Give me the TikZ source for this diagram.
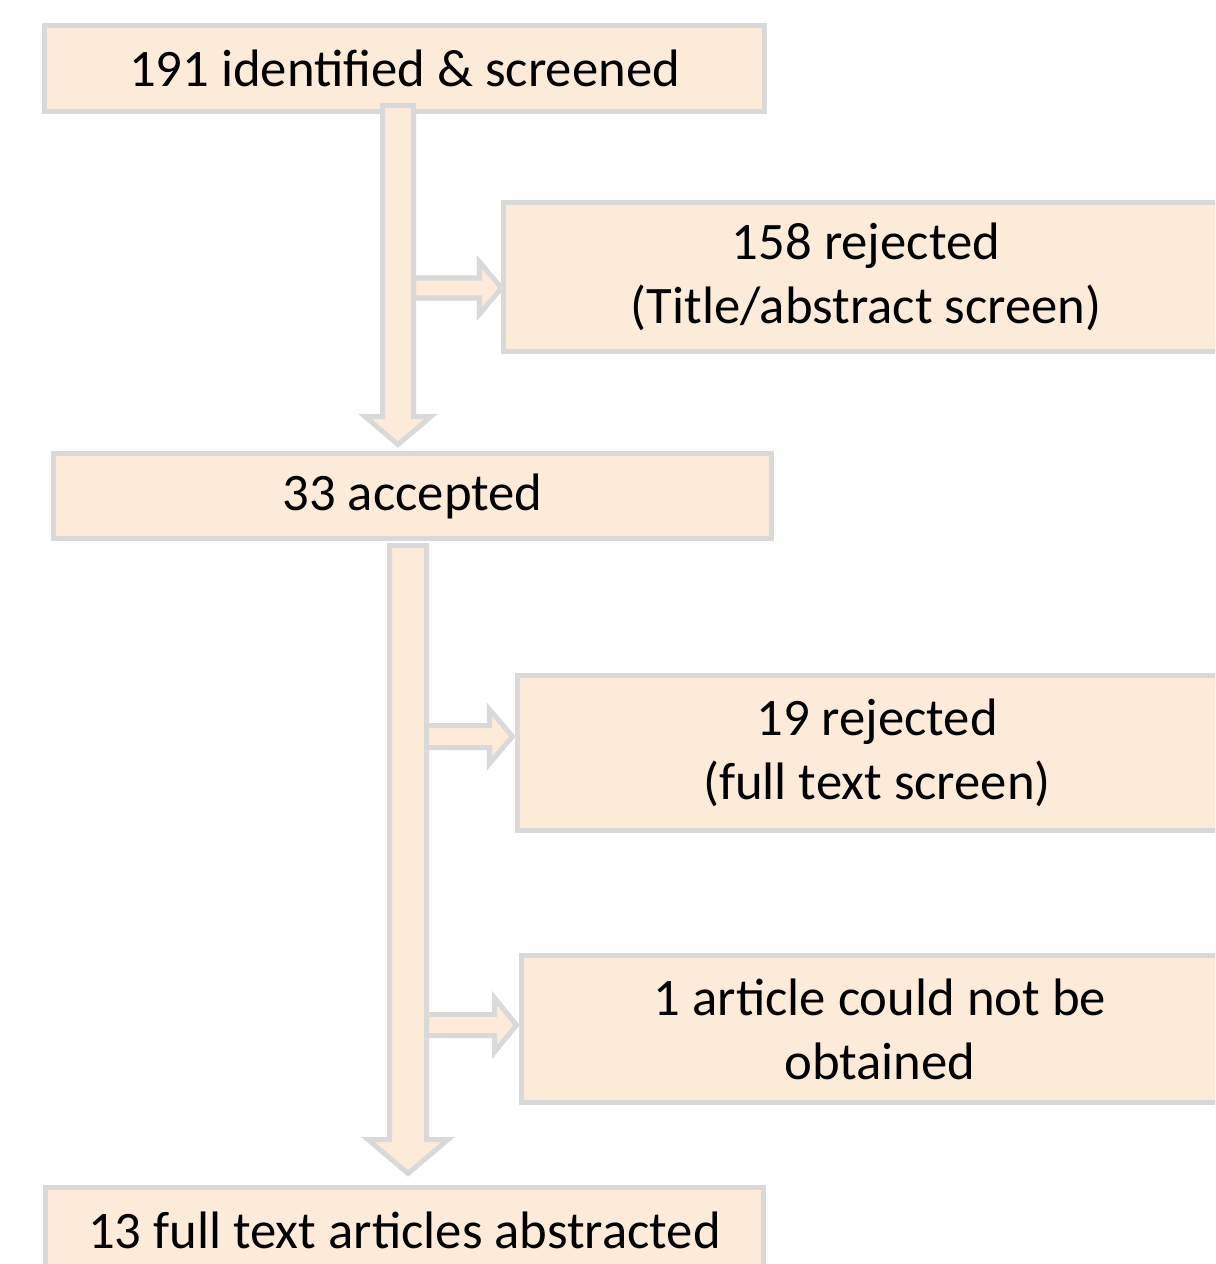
\documentclass[tikz,border=0pt]{standalone}
\usepackage{fontspec}
\setmainfont{Carlito}
\usetikzlibrary{calc}
\definecolor{boxfill}{HTML}{FDEBD9}
\definecolor{boxline}{HTML}{D9D9D9}
\tikzset{
  box/.style={draw=boxline, fill=boxfill, line width=2.85pt, rectangle, inner sep=0pt,
    align=center, font=\fontsize{30}{36.4}\selectfont, text=black},
  fat/.style={draw=boxline, fill=boxfill, line width=2.85pt, miter limit=10}
}
% down fat arrow: start, tip, shaft half, head half, head length
\newcommand{\fatdown}[5]{%
  \draw[fat] ($(#1)+(-#3,0)$) -- ($(#1)+(#3,0)$) -- ($(#2)+(#3,-#5)$) -- ($(#2)+(#4,-#5)$)
    -- (#2) -- ($(#2)+(-#4,-#5)$) -- ($(#2)+(-#3,-#5)$) -- cycle;}
% right fat arrow
\newcommand{\fatright}[5]{%
  \draw[fat] ($(#1)+(0,-#3)$) -- ($(#2)+(-#5,-#3)$) -- ($(#2)+(-#5,-#4)$)
    -- (#2) -- ($(#2)+(-#5,#4)$) -- ($(#2)+(-#5,#3)$) -- ($(#1)+(0,#3)$) -- cycle;}
\begin{document}
\begin{tikzpicture}[x=0.02cm, y=-0.02cm]
\useasboundingbox (0,0) rectangle (1215,1264);
\clip (0,0) rectangle (1215,1264);
\node[box, minimum width=720*0.02cm, minimum height=86*0.02cm] (b1) at (404.5,68.5) {191 identified \& screened};
\node[box, minimum width=726*0.02cm, minimum height=149*0.02cm] (b2) at (866,277) {158 rejected\\(Title/abstract screen)};
\node[box, minimum width=718*0.02cm, minimum height=85*0.02cm] (b3) at (412.5,496) {33 accepted};
\node[box, minimum width=719*0.02cm, minimum height=155*0.02cm] (b4) at (877,753) {19 rejected\\(full text screen)};
\node[box, minimum width=717*0.02cm, minimum height=147*0.02cm] (b5) at (880,1029) {1 article could not be\\obtained};
\node[box, minimum width=718*0.02cm, minimum height=85*0.02cm] (b6) at (404.5,1230) {13 full text articles abstracted};

% connector coordinates
\coordinate (s1) at (400,288);
\coordinate (t1) at ($(b2.west |- s1)+(1,0)$);
\coordinate (s2) at (410,736.5);
\coordinate (t2) at ($(b4.west |- s2)+(-2.5,0)$);
\coordinate (s3) at (410,1025);
\coordinate (t3) at ($(b5.west |- s3)+(-2.5,0)$);
\coordinate (d1s) at (398,105.5);
\coordinate (d1t) at ($(d1s |- b3.north)+(0,-6.5)$);
\coordinate (d2s) at (408,545.5);
\coordinate (d2t) at ($(d2s |- b6.north)+(0,-11.5)$);

\fatright{s1}{t1}{10}{26}{22}
\fatright{s2}{t2}{11}{27}{23}
\fatright{s3}{t3}{10.5}{27}{22}
\fatdown{d1s}{d1t}{15.5}{33}{28}
\fatdown{d2s}{d2t}{18.5}{40}{34}
\end{tikzpicture}
\end{document}
